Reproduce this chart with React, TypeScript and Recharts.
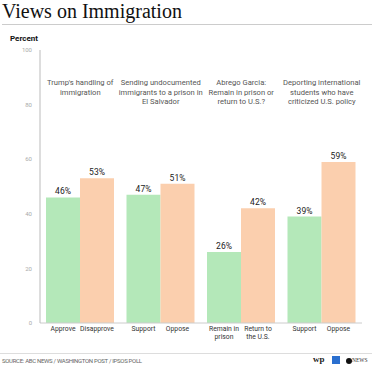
import React from 'react';
import { BarChart, Bar, XAxis, YAxis, LabelList } from 'recharts';

const groups = ['trump', 'elsalvador', 'abrego', 'students'];
const groupTitles = [
  ["Trump's handling of", 'immigration'],
  ['Sending undocumented', 'immigrants to a prison in', 'El Salvador'],
  ['Abrego Garcia:', 'Remain in prison or', 'return to U.S.?'],
  ['Deporting international', 'students who have', 'criticized U.S. policy'],
];
const firstLabels = ['Approve', 'Support', 'Remain in|prison', 'Support'];
const secondLabels = ['Disapprove', 'Oppose', 'Return to|the U.S.', 'Oppose'];
const firstValues = [46, 47, 26, 39];
const secondValues = [53, 51, 42, 59];
const yTicks = [0, 20, 40, 60, 80, 100];

const data = groups.map((g, i) => ({
  group: g,
  first: firstValues[i],
  second: secondValues[i],
  firstLabel: firstLabels[i],
  secondLabel: secondLabels[i],
}));

const FONT = 'Roboto, "Noto Sans", sans-serif';

// multi-line title above each pair of bars
const TitleTick = ({ x, y, index }: any) => {
  const lines = groupTitles[index] || [];
  return (
    <text x={x} y={y + 43} textAnchor="middle" fontSize={7.6} fill="#555" fontFamily={FONT}>
      {lines.map((l: string, i: number) => (
        <tspan key={i} x={x} dy={i === 0 ? 0 : 9.5}>
          {l}
        </tspan>
      ))}
    </text>
  );
};

// category name under each bar
const BottomLabel = ({ x, y, width, height, value }: any) => {
  const lines = String(value).split('|');
  const cx = x + width / 2;
  return (
    <text x={cx} y={y + height + 8} textAnchor="middle" fontSize={6.8} fill="#333" fontFamily={FONT}>
      {lines.map((l, i) => (
        <tspan key={i} x={cx} dy={i === 0 ? 0 : 8}>
          {l}
        </tspan>
      ))}
    </text>
  );
};

export default function App() {
  return (
    <div style={{ position: 'absolute', left: 0, top: 0, width: 375, height: 369, background: '#fff', fontFamily: FONT }}>
      <div
        style={{
          position: 'absolute',
          left: 2,
          top: 0,
          fontFamily: '"Liberation Serif", "DejaVu Serif", serif',
          fontSize: 20,
          lineHeight: '22px',
          color: '#111',
          whiteSpace: 'nowrap',
        }}
      >
        Views on Immigration
      </div>
      <div style={{ position: 'absolute', left: 2, top: 24, width: 370, height: 1, background: '#ccc' }} />
      <div style={{ position: 'absolute', left: 10, top: 34, fontSize: 8, fontWeight: 700, color: '#111' }}>Percent</div>

      <div style={{ position: 'absolute', left: 0, top: 0 }}>
        <BarChart
          width={375}
          height={369}
          data={data}
          margin={{ top: 20, right: 13, left: 10, bottom: 16 }}
          barCategoryGap={6}
          barGap={0}
        >
          <XAxis
            xAxisId="top"
            dataKey="group"
            orientation="top"
            height={30}
            axisLine={false}
            tickLine={false}
            tick={<TitleTick />}
            interval={0}
          />
          <XAxis
            xAxisId="bottom"
            dataKey="group"
            height={30}
            axisLine={{ stroke: '#ccc' }}
            tickLine={false}
            tick={false}
          />
          <YAxis
            width={30}
            domain={[0, 100]}
            ticks={yTicks}
            interval={0}
            axisLine={{ stroke: '#bbb' }}
            tickLine={false}
            tick={{ fontSize: 6, fill: '#aaa', fontFamily: FONT }}
            tickMargin={2}
          />
          <Bar xAxisId="bottom" dataKey="first" fill="#b4e8b9" isAnimationActive={false}>
            <LabelList
              dataKey="first"
              position="top"
              offset={3}
              formatter={(v: any) => `${v}%`}
              style={{ fontSize: 8.5, fill: '#222', fontFamily: FONT }}
            />
            <LabelList dataKey="firstLabel" content={<BottomLabel />} />
          </Bar>
          <Bar xAxisId="bottom" dataKey="second" fill="#fbcfae" isAnimationActive={false}>
            <LabelList
              dataKey="second"
              position="top"
              offset={3}
              formatter={(v: any) => `${v}%`}
              style={{ fontSize: 8.5, fill: '#222', fontFamily: FONT }}
            />
            <LabelList dataKey="secondLabel" content={<BottomLabel />} />
          </Bar>
        </BarChart>
      </div>

      <div style={{ position: 'absolute', left: 0, top: 353, width: 372, height: 1, background: '#ddd' }} />
      <div
        style={{
          position: 'absolute',
          left: 2,
          top: 357,
          fontSize: 6,
          color: '#666',
          letterSpacing: -0.3,
          whiteSpace: 'nowrap',
        }}
      >
        SOURCE: ABC NEWS / WASHINGTON POST / IPSOS POLL
      </div>
      <div
        style={{
          position: 'absolute',
          left: 313,
          top: 354,
          fontFamily: '"Liberation Serif", serif',
          fontSize: 9,
          fontWeight: 700,
          color: '#222',
        }}
      >
        wp
      </div>
      <div style={{ position: 'absolute', left: 332, top: 356, width: 8, height: 8, background: '#2a6fcf' }} />
      <div style={{ position: 'absolute', left: 346, top: 358, width: 6, height: 6, borderRadius: 3, background: '#111' }} />
      <div
        style={{
          position: 'absolute',
          left: 352,
          top: 357,
          fontFamily: '"Liberation Serif", serif',
          fontSize: 5.5,
          color: '#333',
        }}
      >
        NEWS
      </div>
    </div>
  );
}
